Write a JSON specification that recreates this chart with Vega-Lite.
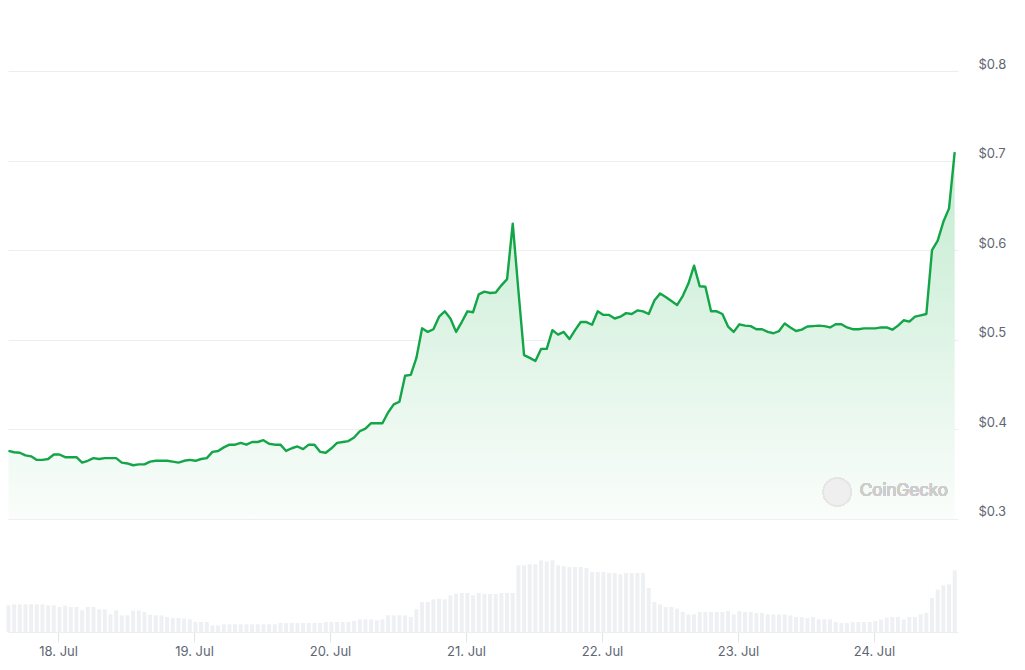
{
  "$schema": "https://vega.github.io/schema/vega-lite/v6.json",
  "width": 950,
  "height": 612,
  "autosize": {"type": "none"},
  "padding": {"left": 8, "top": 20, "right": 67, "bottom": 38},
  "background": "#ffffff",
  "config": {"view": {"stroke": null}, "font": "Inter"},
  "data": {"values": [
    {"t":"2024-07-17T15:15","p":0.376,"v":80},{"t":"2024-07-17T16:15","p":0.3745,"v":83},{"t":"2024-07-17T17:15","p":0.374,"v":83},{"t":"2024-07-17T18:15","p":0.371,"v":83},{"t":"2024-07-17T19:15","p":0.370,"v":83},{"t":"2024-07-17T20:15","p":0.366,"v":83},{"t":"2024-07-17T21:15","p":0.366,"v":83},{"t":"2024-07-17T22:15","p":0.367,"v":80},{"t":"2024-07-17T23:15","p":0.372,"v":80},
    {"t":"2024-07-18T00:15","p":0.372,"v":75},{"t":"2024-07-18T01:15","p":0.369,"v":79},{"t":"2024-07-18T02:15","p":0.369,"v":75},{"t":"2024-07-18T03:15","p":0.369,"v":75},{"t":"2024-07-18T04:15","p":0.363,"v":65},{"t":"2024-07-18T05:15","p":0.365,"v":75},{"t":"2024-07-18T06:15","p":0.368,"v":75},{"t":"2024-07-18T07:15","p":0.367,"v":68},{"t":"2024-07-18T08:15","p":0.368,"v":68},{"t":"2024-07-18T09:15","p":0.368,"v":53},{"t":"2024-07-18T10:15","p":0.368,"v":65},{"t":"2024-07-18T11:15","p":0.363,"v":50},{"t":"2024-07-18T12:15","p":0.362,"v":50},{"t":"2024-07-18T13:15","p":0.360,"v":64},{"t":"2024-07-18T14:15","p":0.361,"v":64},{"t":"2024-07-18T15:15","p":0.361,"v":60},{"t":"2024-07-18T16:15","p":0.364,"v":52},{"t":"2024-07-18T17:15","p":0.365,"v":50},{"t":"2024-07-18T18:15","p":0.365,"v":50},{"t":"2024-07-18T19:15","p":0.365,"v":45},{"t":"2024-07-18T20:15","p":0.364,"v":42},{"t":"2024-07-18T21:15","p":0.363,"v":42},{"t":"2024-07-18T22:15","p":0.365,"v":40},{"t":"2024-07-18T23:15","p":0.366,"v":38},
    {"t":"2024-07-19T00:15","p":0.365,"v":30},{"t":"2024-07-19T01:15","p":0.367,"v":30},{"t":"2024-07-19T02:15","p":0.368,"v":30},{"t":"2024-07-19T03:15","p":0.375,"v":20},{"t":"2024-07-19T04:15","p":0.376,"v":20},{"t":"2024-07-19T05:15","p":0.380,"v":23},{"t":"2024-07-19T06:15","p":0.383,"v":23},{"t":"2024-07-19T07:15","p":0.383,"v":23},{"t":"2024-07-19T08:15","p":0.385,"v":23},{"t":"2024-07-19T09:15","p":0.383,"v":23},{"t":"2024-07-19T10:15","p":0.386,"v":23},{"t":"2024-07-19T11:15","p":0.386,"v":23},{"t":"2024-07-19T12:15","p":0.388,"v":23},{"t":"2024-07-19T13:15","p":0.384,"v":23},{"t":"2024-07-19T14:15","p":0.383,"v":23},{"t":"2024-07-19T15:15","p":0.383,"v":27},{"t":"2024-07-19T16:15","p":0.376,"v":27},{"t":"2024-07-19T17:15","p":0.379,"v":27},{"t":"2024-07-19T18:15","p":0.381,"v":27},{"t":"2024-07-19T19:15","p":0.378,"v":27},{"t":"2024-07-19T20:15","p":0.383,"v":27},{"t":"2024-07-19T21:15","p":0.383,"v":27},{"t":"2024-07-19T22:15","p":0.375,"v":27},{"t":"2024-07-19T23:15","p":0.374,"v":30},
    {"t":"2024-07-20T00:15","p":0.379,"v":30},{"t":"2024-07-20T01:15","p":0.385,"v":30},{"t":"2024-07-20T02:15","p":0.386,"v":30},{"t":"2024-07-20T03:15","p":0.387,"v":30},{"t":"2024-07-20T04:15","p":0.391,"v":33},{"t":"2024-07-20T05:15","p":0.398,"v":38},{"t":"2024-07-20T06:15","p":0.401,"v":38},{"t":"2024-07-20T07:15","p":0.407,"v":38},{"t":"2024-07-20T08:15","p":0.407,"v":35},{"t":"2024-07-20T09:15","p":0.407,"v":38},{"t":"2024-07-20T10:15","p":0.419,"v":50},{"t":"2024-07-20T11:15","p":0.428,"v":50},{"t":"2024-07-20T12:15","p":0.431,"v":50},{"t":"2024-07-20T13:15","p":0.460,"v":50},{"t":"2024-07-20T14:15","p":0.461,"v":45},{"t":"2024-07-20T15:15","p":0.480,"v":68},{"t":"2024-07-20T16:15","p":0.513,"v":90},{"t":"2024-07-20T17:15","p":0.509,"v":90},{"t":"2024-07-20T18:15","p":0.512,"v":98},{"t":"2024-07-20T19:15","p":0.526,"v":100},{"t":"2024-07-20T20:15","p":0.532,"v":98},{"t":"2024-07-20T21:15","p":0.524,"v":110},{"t":"2024-07-20T22:15","p":0.509,"v":115},{"t":"2024-07-20T23:15","p":0.520,"v":117},
    {"t":"2024-07-21T00:15","p":0.532,"v":117},{"t":"2024-07-21T01:15","p":0.531,"v":110},{"t":"2024-07-21T02:15","p":0.551,"v":117},{"t":"2024-07-21T03:15","p":0.554,"v":114},{"t":"2024-07-21T04:15","p":0.5525,"v":114},{"t":"2024-07-21T05:15","p":0.553,"v":114},{"t":"2024-07-21T06:15","p":0.561,"v":117},{"t":"2024-07-21T07:15","p":0.568,"v":117},{"t":"2024-07-21T08:15","p":0.630,"v":117},{"t":"2024-07-21T09:15","p":0.555,"v":200},{"t":"2024-07-21T10:15","p":0.483,"v":200},{"t":"2024-07-21T11:15","p":0.480,"v":203},{"t":"2024-07-21T12:15","p":0.4765,"v":203},{"t":"2024-07-21T13:15","p":0.490,"v":215},{"t":"2024-07-21T14:15","p":0.490,"v":212},{"t":"2024-07-21T15:15","p":0.511,"v":215},{"t":"2024-07-21T16:15","p":0.506,"v":200},{"t":"2024-07-21T17:15","p":0.509,"v":198},{"t":"2024-07-21T18:15","p":0.501,"v":195},{"t":"2024-07-21T19:15","p":0.511,"v":195},{"t":"2024-07-21T20:15","p":0.520,"v":195},{"t":"2024-07-21T21:15","p":0.520,"v":192},{"t":"2024-07-21T22:15","p":0.517,"v":180},{"t":"2024-07-21T23:15","p":0.532,"v":180},
    {"t":"2024-07-22T00:15","p":0.528,"v":180},{"t":"2024-07-22T01:15","p":0.528,"v":177},{"t":"2024-07-22T02:15","p":0.524,"v":177},{"t":"2024-07-22T03:15","p":0.526,"v":173},{"t":"2024-07-22T04:15","p":0.530,"v":177},{"t":"2024-07-22T05:15","p":0.529,"v":177},{"t":"2024-07-22T06:15","p":0.533,"v":177},{"t":"2024-07-22T07:15","p":0.532,"v":177},{"t":"2024-07-22T08:15","p":0.529,"v":132},{"t":"2024-07-22T09:15","p":0.544,"v":90},{"t":"2024-07-22T10:15","p":0.552,"v":83},{"t":"2024-07-22T11:15","p":0.548,"v":75},{"t":"2024-07-22T12:15","p":0.5435,"v":75},{"t":"2024-07-22T13:15","p":0.539,"v":70},{"t":"2024-07-22T14:15","p":0.549,"v":60},{"t":"2024-07-22T15:15","p":0.563,"v":53},{"t":"2024-07-22T16:15","p":0.583,"v":53},{"t":"2024-07-22T17:15","p":0.560,"v":60},{"t":"2024-07-22T18:15","p":0.5595,"v":60},{"t":"2024-07-22T19:15","p":0.532,"v":60},{"t":"2024-07-22T20:15","p":0.532,"v":60},{"t":"2024-07-22T21:15","p":0.529,"v":60},{"t":"2024-07-22T22:15","p":0.515,"v":63},{"t":"2024-07-22T23:15","p":0.509,"v":53},
    {"t":"2024-07-23T00:15","p":0.5175,"v":63},{"t":"2024-07-23T01:15","p":0.516,"v":60},{"t":"2024-07-23T02:15","p":0.5155,"v":60},{"t":"2024-07-23T03:15","p":0.512,"v":57},{"t":"2024-07-23T04:15","p":0.512,"v":57},{"t":"2024-07-23T05:15","p":0.509,"v":53},{"t":"2024-07-23T06:15","p":0.5075,"v":53},{"t":"2024-07-23T07:15","p":0.510,"v":53},{"t":"2024-07-23T08:15","p":0.5185,"v":53},{"t":"2024-07-23T09:15","p":0.514,"v":50},{"t":"2024-07-23T10:15","p":0.510,"v":45},{"t":"2024-07-23T11:15","p":0.5115,"v":45},{"t":"2024-07-23T12:15","p":0.515,"v":42},{"t":"2024-07-23T13:15","p":0.5155,"v":45},{"t":"2024-07-23T14:15","p":0.516,"v":38},{"t":"2024-07-23T15:15","p":0.5155,"v":38},{"t":"2024-07-23T16:15","p":0.514,"v":38},{"t":"2024-07-23T17:15","p":0.5175,"v":30},{"t":"2024-07-23T18:15","p":0.5175,"v":27},{"t":"2024-07-23T19:15","p":0.514,"v":27},{"t":"2024-07-23T20:15","p":0.512,"v":30},{"t":"2024-07-23T21:15","p":0.512,"v":30},{"t":"2024-07-23T22:15","p":0.513,"v":30},{"t":"2024-07-23T23:15","p":0.513,"v":30},
    {"t":"2024-07-24T00:15","p":0.513,"v":33},{"t":"2024-07-24T01:15","p":0.514,"v":37},{"t":"2024-07-24T02:15","p":0.514,"v":43},{"t":"2024-07-24T03:15","p":0.5115,"v":45},{"t":"2024-07-24T04:15","p":0.516,"v":45},{"t":"2024-07-24T05:15","p":0.522,"v":38},{"t":"2024-07-24T06:15","p":0.5205,"v":45},{"t":"2024-07-24T07:15","p":0.526,"v":45},{"t":"2024-07-24T08:15","p":0.5275,"v":53},{"t":"2024-07-24T09:15","p":0.529,"v":57},{"t":"2024-07-24T10:15","p":0.6005,"v":102},{"t":"2024-07-24T11:15","p":0.611,"v":127},{"t":"2024-07-24T12:15","p":0.632,"v":140},{"t":"2024-07-24T13:15","p":0.647,"v":143},{"t":"2024-07-24T14:15","p":0.710,"v":185}
  ]},
  "encoding": {
    "x": {
      "field": "t", "type": "temporal",
      "scale": {"domain": [{"year": 2024, "month": 7, "date": 17, "hours": 15, "minutes": 10}, {"year": 2024, "month": 7, "date": 24, "hours": 14, "minutes": 50}], "padding": 0},
      "axis": {
        "title": null, "grid": false, "format": "%-d. %b",
        "values": [
          {"year": 2024, "month": 7, "date": 18}, {"year": 2024, "month": 7, "date": 19}, {"year": 2024, "month": 7, "date": 20},
          {"year": 2024, "month": 7, "date": 21}, {"year": 2024, "month": 7, "date": 22}, {"year": 2024, "month": 7, "date": 23},
          {"year": 2024, "month": 7, "date": 24}
        ],
        "domainColor": "#eceef1", "tickColor": "#e2e4e8", "tickSize": 10,
        "labelColor": "#5e6673", "labelFontSize": 13, "labelPadding": 3, "labelFlush": false
      }
    }
  },
  "layer": [
    {
      "mark": {"type": "bar", "size": 4, "color": "#eef0f3"},
      "encoding": {
        "y": {"field": "v", "type": "quantitative", "scale": {"domain": [0, 1836], "nice": false}, "axis": null}
      }
    },
    {
      "encoding": {
        "y": {
          "field": "p", "type": "quantitative",
          "scale": {"domain": [0.1737, 0.8575], "nice": false, "zero": false},
          "axis": {
            "orient": "right", "title": null, "values": [0.3, 0.4, 0.5, 0.6, 0.7, 0.8],
            "labelExpr": "'$' + format(datum.value, '.1f')",
            "domain": false, "ticks": false, "grid": true, "gridColor": "#eeeeee",
            "labelColor": "#5e6673", "labelFontSize": 13, "labelPadding": 20, "labelOffset": -7
          }
        }
      },
      "layer": [
        {
          "mark": {
            "type": "area",
            "color": {"gradient": "linear", "x1": 0, "y1": 0, "x2": 0, "y2": 1,
              "stops": [{"offset": 0, "color": "#c3ebd0"}, {"offset": 1, "color": "#fafdfb"}]}
          },
          "encoding": {"y2": {"datum": 0.3}}
        },
        {
          "mark": {"type": "line", "color": "#13a548", "strokeWidth": 2.4, "strokeJoin": "round"},
          "encoding": {}
        },
        {
          "mark": {"type": "point", "filled": true, "size": 760, "color": "#efefef", "stroke": "#e5e5e5", "strokeWidth": 1.5, "opacity": 1},
          "encoding": {
            "x": {"datum": {"year": 2024, "month": 7, "date": 23, "hours": 17, "minutes": 30}, "type": "temporal"},
            "y": {"datum": 0.3302}
          }
        },
        {
          "mark": {"type": "text", "text": "CoinGecko", "fontSize": 17, "fontWeight": "normal", "color": "#cdcdcd", "align": "center", "baseline": "middle"},
          "encoding": {
            "x": {"datum": {"year": 2024, "month": 7, "date": 24, "hours": 5, "minutes": 17}, "type": "temporal"},
            "y": {"datum": 0.3313}
          }
        }
      ]
    }
  ],
  "resolve": {"scale": {"y": "independent"}}
}
